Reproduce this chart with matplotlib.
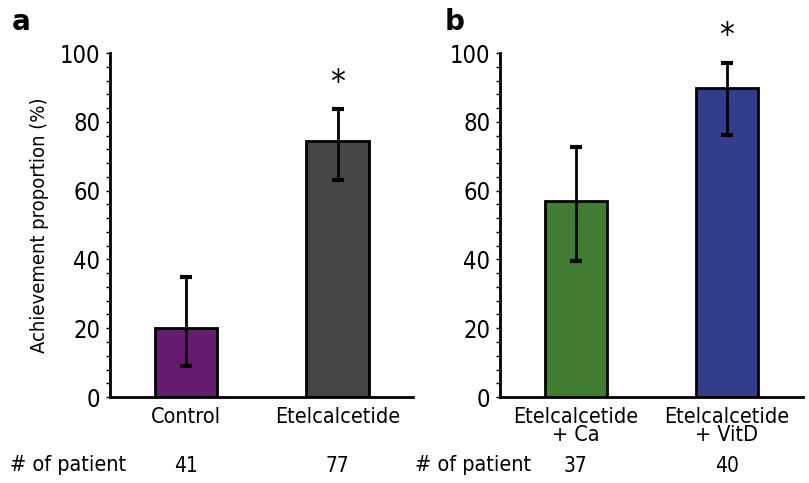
import matplotlib
matplotlib.use("Agg")
import matplotlib.pyplot as plt
from matplotlib.ticker import MultipleLocator

plt.rcParams['font.family'] = ['DejaVu Sans']
plt.rcParams['font.stretch'] = 'condensed'

# panel a
a_labels = ["Control", "Etelcalcetide"]
a_values = [20.0, 74.5]
a_err_lo = [9.0, 63.0]
a_err_hi = [35.0, 83.8]
a_colors = ["#661c6e", "#464646"]
a_n = ["41", "77"]
a_star = [False, True]

# panel b
b_labels = ["Etelcalcetide\n+ Ca", "Etelcalcetide\n+ VitD"]
b_values = [57.0, 90.0]
b_err_lo = [39.5, 76.2]
b_err_hi = [72.7, 97.2]
b_colors = ["#407d33", "#323e8c"]
b_n = ["37", "40"]
b_star = [False, True]

fig = plt.figure(figsize=(8.09, 4.83), dpi=100)
ax1 = fig.add_axes([0.136, 0.178, 0.375, 0.712])
ax2 = fig.add_axes([0.618, 0.178, 0.374, 0.712])


def draw(ax, labels, values, lo, hi, colors, n, star):
    x = [0.5, 1.5]
    yerr = [[v - l for v, l in zip(values, lo)], [h - v for v, h in zip(values, hi)]]
    ax.bar(x, values, width=0.41, color=colors, edgecolor="black", linewidth=2)
    ax.errorbar(x, values, yerr=yerr, fmt="none", ecolor="black", elinewidth=2,
                capsize=4, capthick=3)
    for xi, h, s in zip(x, hi, star):
        if s:
            ax.text(xi, h + 7.5, "*", ha="center", va="center", fontsize=24)
    ax.set_xlim(0, 2)
    ax.set_ylim(0, 100)
    ax.spines["top"].set_visible(False)
    ax.spines["right"].set_visible(False)
    ax.spines["left"].set_linewidth(2)
    ax.spines["bottom"].set_linewidth(2)
    ax.yaxis.set_major_locator(MultipleLocator(20))
    ax.yaxis.set_minor_locator(MultipleLocator(4))
    ax.tick_params(axis="y", which="both", length=3, width=1, labelsize=17, pad=4)
    ax.tick_params(axis="x", length=0, labelsize=15.5, pad=7)
    ax.set_xticks(x)
    ax.set_xticklabels(labels, linespacing=0.9)
    tr = ax.get_xaxis_transform()
    for xi, t in zip(x, n):
        ax.text(xi, -0.2, t, transform=tr, ha="center", va="center", fontsize=15)


draw(ax1, a_labels, a_values, a_err_lo, a_err_hi, a_colors, a_n, a_star)
draw(ax2, b_labels, b_values, b_err_lo, b_err_hi, b_colors, b_n, b_star)
ax1.set_ylabel("Achievement proportion (%)", fontsize=14.5, labelpad=8)

fig.text(0.012, 0.037, "# of patient", fontsize=15.5, va="center")
fig.text(0.513, 0.037, "# of patient", fontsize=15.5, va="center")
fig.text(0.014, 0.955, "a", fontsize=20, fontweight="bold", va="center", stretch="normal")
fig.text(0.549, 0.955, "b", fontsize=20, fontweight="bold", va="center", stretch="normal")

fig.savefig("out.png", dpi=100)
